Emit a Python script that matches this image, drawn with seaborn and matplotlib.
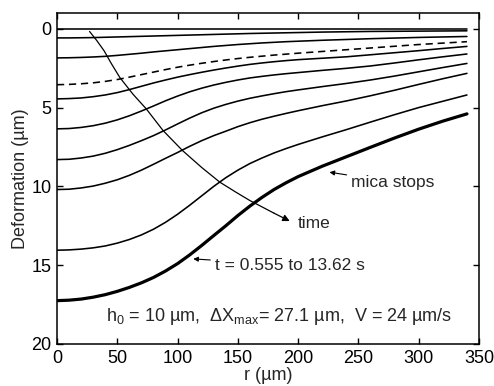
import numpy as np
import pandas as pd
import matplotlib
matplotlib.use("Agg")
import matplotlib.pyplot as plt
import seaborn as sns

# ---- data ----
r = [0, 10, 20, 30, 40, 50, 60, 70, 80, 90, 100, 110, 120, 130, 140, 150, 160,
     170, 180, 190, 200, 220, 240, 260, 280, 300, 320, 340]
c1 = [0.0] * 28
c2 = [0.58, 0.58, 0.57, 0.56, 0.54, 0.52, 0.50, 0.48, 0.46, 0.44, 0.42, 0.40, 0.38, 0.36,
      0.34, 0.32, 0.30, 0.285, 0.27, 0.255, 0.24, 0.21, 0.19, 0.17, 0.16, 0.15, 0.14, 0.13]
c3 = [1.85, 1.84, 1.82, 1.79, 1.75, 1.69, 1.62, 1.55, 1.47, 1.40, 1.33, 1.26, 1.19, 1.12,
      1.06, 1.00, 0.95, 0.90, 0.86, 0.82, 0.79, 0.73, 0.68, 0.63, 0.59, 0.55, 0.52, 0.49]
c4 = [3.55, 3.53, 3.49, 3.43, 3.34, 3.22, 3.07, 2.91, 2.75, 2.59, 2.44, 2.31, 2.19, 2.08,
      1.98, 1.89, 1.81, 1.74, 1.67, 1.61, 1.55, 1.44, 1.33, 1.22, 1.11, 1.00, 0.91, 0.82]
c5 = [4.45, 4.43, 4.39, 4.31, 4.20, 4.05, 3.86, 3.65, 3.44, 3.25, 3.07, 2.91, 2.76, 2.62,
      2.49, 2.37, 2.26, 2.17, 2.09, 2.02, 1.96, 1.87, 1.78, 1.65, 1.52, 1.39, 1.25, 1.12]
c6 = [6.35, 6.33, 6.26, 6.15, 5.99, 5.78, 5.52, 5.22, 4.90, 4.57, 4.27, 4.00, 3.77, 3.57,
      3.40, 3.25, 3.12, 3.02, 2.93, 2.85, 2.78, 2.64, 2.51, 2.36, 2.17, 1.97, 1.78, 1.60]
c7 = [8.30, 8.28, 8.20, 8.08, 7.90, 7.67, 7.40, 7.10, 6.78, 6.42, 6.04, 5.67, 5.33, 5.04,
      4.80, 4.59, 4.41, 4.26, 4.12, 3.99, 3.88, 3.67, 3.47, 3.25, 3.00, 2.73, 2.46, 2.20]
c8 = [10.20, 10.18, 10.10, 9.98, 9.80, 9.58, 9.30, 8.97, 8.60, 8.22, 7.85, 7.46, 7.10, 6.78,
      6.50, 6.21, 5.96, 5.74, 5.55, 5.37, 5.20, 4.88, 4.58, 4.25, 3.90, 3.53, 3.17, 2.83]
c9 = [14.05, 14.03, 13.98, 13.90, 13.78, 13.60, 13.37, 13.08, 12.72, 12.28, 11.77, 11.20,
      10.60, 10.00, 9.45, 8.97, 8.55, 8.20, 7.88, 7.60, 7.34, 6.86, 6.40, 5.92, 5.45, 5.00,
      4.60, 4.20]
c10 = [17.25, 17.22, 17.15, 17.03, 16.87, 16.66, 16.41, 16.12, 15.78, 15.37, 14.90, 14.35,
       13.75, 13.12, 12.50, 11.85, 11.25, 10.70, 10.20, 9.77, 9.38, 8.72, 8.12, 7.52, 6.93,
       6.37, 5.86, 5.40]

time_r = [27, 33, 39, 45, 52, 63, 74, 88, 104, 120, 135, 148, 160, 170, 180]
time_v = [0.17, 0.75, 1.39, 2.20, 3.08, 4.15, 5.08, 6.46, 7.72, 8.80, 9.73, 10.35, 10.90,
          11.30, 11.70]
time_tip = (193, 12.2)

xticks = [0, 50, 100, 150, 200, 250, 300, 350]
yticks = [0, 5, 10, 15, 20]

# ---- style ----
sns.set_style("ticks")
plt.rcParams["font.family"] = ["Liberation Sans", "DejaVu Sans"]
plt.rcParams["mathtext.fontset"] = "custom"
plt.rcParams["mathtext.rm"] = "Liberation Sans"
plt.rcParams["mathtext.it"] = "Liberation Sans:italic"

fig = plt.figure(figsize=(4.94, 3.86), dpi=100)
ax = fig.add_axes([57 / 494, 1 - 344 / 386, (479 - 57) / 494, (344 - 13) / 386])

curves = [c1, c2, c3, c4, c5, c6, c7, c8, c9, c10]
rows = []
for i, c in enumerate(curves):
    for rr, vv in zip(r, c):
        rows.append({"r": rr, "v": vv, "curve": f"c{i+1}"})
df = pd.DataFrame(rows)

for i in range(10):
    name = f"c{i+1}"
    sub = df[df.curve == name]
    lw = 1.15
    ls = "-"
    if i == 3:
        ls = (0, (4.5, 3))
    if i == 9:
        lw = 2.3
    sns.lineplot(data=sub, x="r", y="v", ax=ax, color="black", lw=lw,
                 linestyle=ls, sort=False, estimator=None, legend=False)

sns.lineplot(x=time_r, y=time_v, ax=ax, color="black", lw=0.9, sort=False,
             estimator=None, legend=False)
ax.annotate("", xy=time_tip, xytext=(time_r[-1], time_v[-1]),
            arrowprops=dict(arrowstyle="-|>", color="black", lw=0.9,
                            mutation_scale=10, shrinkA=0, shrinkB=0))
ax.text(200, 12.35, "time", fontsize=12.5, va="center", ha="left")

ax.annotate("mica stops", xy=(226, 9.1), xytext=(244, 9.73), fontsize=12.5,
            va="center", ha="left",
            arrowprops=dict(arrowstyle="-|>", color="black", lw=0.8,
                            mutation_scale=7, shrinkA=1, shrinkB=0))
ax.annotate("t = 0.555 to 13.62 s", xy=(113, 14.6), xytext=(131, 15.0),
            fontsize=12.5, va="center", ha="left",
            arrowprops=dict(arrowstyle="-|>", color="black", lw=0.8,
                            mutation_scale=7, shrinkA=1, shrinkB=0))
ax.text(41, 18.27,
        r"h$_0$ = 10 µm,  $\Delta$X$_{\rm max}$= 27.1 µm,  V = 24 µm/s",
        fontsize=13, va="center", ha="left")

ax.set_xlim(0, 350)
ax.set_ylim(20, -1)
ax.set_xticks(xticks)
ax.set_yticks(yticks)
ax.set_xticklabels([str(t) for t in xticks])
ax.set_yticklabels([str(t) for t in yticks])
ax.tick_params(direction="in", length=4, width=1, labelsize=13, pad=4,
               top=True, right=True, colors="black")
for s in ax.spines.values():
    s.set_visible(True)
    s.set_linewidth(1.1)
    s.set_color("black")
ax.set_xlabel("r (µm)", fontsize=13, labelpad=0)
ax.set_ylabel("Deformation (µm)", fontsize=13, labelpad=2)

fig.savefig("out.png", dpi=100)
